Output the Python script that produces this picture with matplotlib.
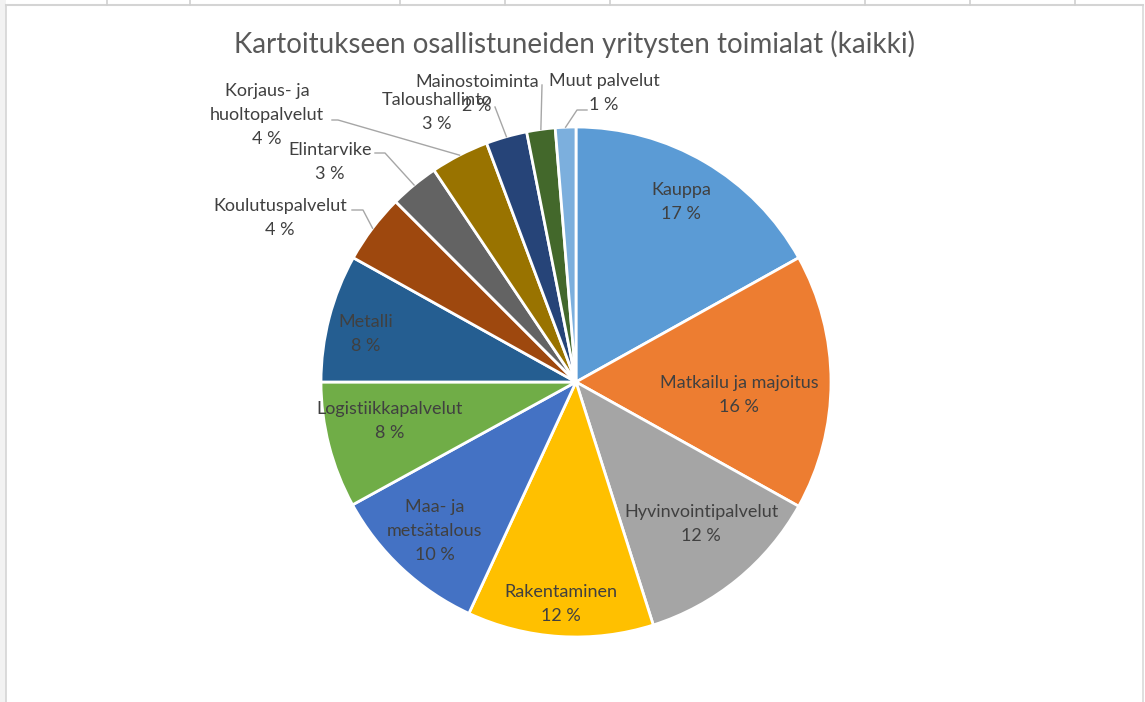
import matplotlib
matplotlib.use('Agg')
import matplotlib.pyplot as plt
import numpy as np

# toimialat ja osuudet (%) luettuna kuvasta
categories = ['Kauppa', 'Matkailu ja majoitus', 'Hyvinvointipalvelut', 'Rakentaminen',
              'Maa- ja\nmetsätalous', 'Logistiikkapalvelut', 'Metalli', 'Koulutuspalvelut',
              'Elintarvike', 'Korjaus- ja\nhuoltopalvelut', 'Taloushallinto',
              'Mainostoiminta', 'Muut palvelut']
shares = [16.9, 16.2, 12.0, 11.8, 10.1, 8.0, 8.1, 4.4, 3.1, 3.7, 2.6, 1.8, 1.3]
colors = ['#5B9BD5', '#ED7D31', '#A5A5A5', '#FFC000', '#4472C4', '#70AD47', '#255E91',
          '#9E480E', '#636363', '#997300', '#264478', '#43682B', '#7CAFDD']
title = 'Kartoitukseen osallistuneiden yritysten toimialat (kaikki)'

# label block centres in pixels
label_pos = [(681, 202), (739, 395), (701, 524), (561, 604), (435, 531), (390, 421),
             (366, 334), (280, 218), (330, 162), (267, 115), (437, 112), (477, 94), (604, 93)]
# leader line points from label towards the slice
leaders = {7: [(352, 210), (363, 210)],
           8: [(375, 153), (385, 153)],
           9: [(332, 120), (338, 120)],
           10: [(495, 107)],
           11: [(542, 85)],
           12: [(587, 110), (577, 110)]}

plt.rcParams['font.family'] = ['Lato', 'DejaVu Sans']

W, H = 1145, 702
fig = plt.figure(figsize=(W / 100, H / 100), dpi=100)
ax = fig.add_axes([0, 0, 1, 1])

cx, cy, R = 576, 382, 255
wedges, _ = ax.pie(shares, colors=colors, startangle=-90, counterclock=True,
                   center=(cx, cy), radius=R,
                   wedgeprops=dict(edgecolor='white', linewidth=2))
ax.set_xlim(0, W)
ax.set_ylim(H, 0)
ax.set_aspect('equal')
ax.axis('off')

total = sum(shares)
for i, (name, s) in enumerate(zip(categories, shares)):
    pct = '%d %%' % round(100.0 * s / total)
    x, y = label_pos[i]
    ax.text(x, y, name + '\n' + pct, ha='center', va='center', fontsize=13,
            color='#404040', linespacing=1.6, zorder=5)
    if i in leaders:
        w = wedges[i]
        mid = np.radians((w.theta1 + w.theta2) / 2)
        ex, ey = cx + R * np.cos(mid), cy + R * np.sin(mid)
        pts = leaders[i] + [(ex, ey)]
        ax.plot([p[0] for p in pts], [p[1] for p in pts], color='#A6A6A6', lw=1, zorder=4)

ax.text(574, 44, title, ha='center', va='center', fontsize=20, color='#595959')

# spreadsheet frame around the chart
ax.add_patch(plt.Rectangle((0, 0), 6, H, color='#F2F2F2', lw=0, zorder=0))
ax.plot([6, 6], [5, H], color='#D4D4D4', lw=1.2)
ax.plot([1143, 1143], [5, H], color='#D9D9D9', lw=1.2)
ax.plot([6, 1143], [5, 5], color='#D4D4D4', lw=1.5)
for gx in [107, 190, 400, 505, 610, 865, 970, 1075]:
    ax.plot([gx, gx], [0, 5], color='#D0D0D0', lw=1.2)

fig.savefig('out.png', dpi=100)
